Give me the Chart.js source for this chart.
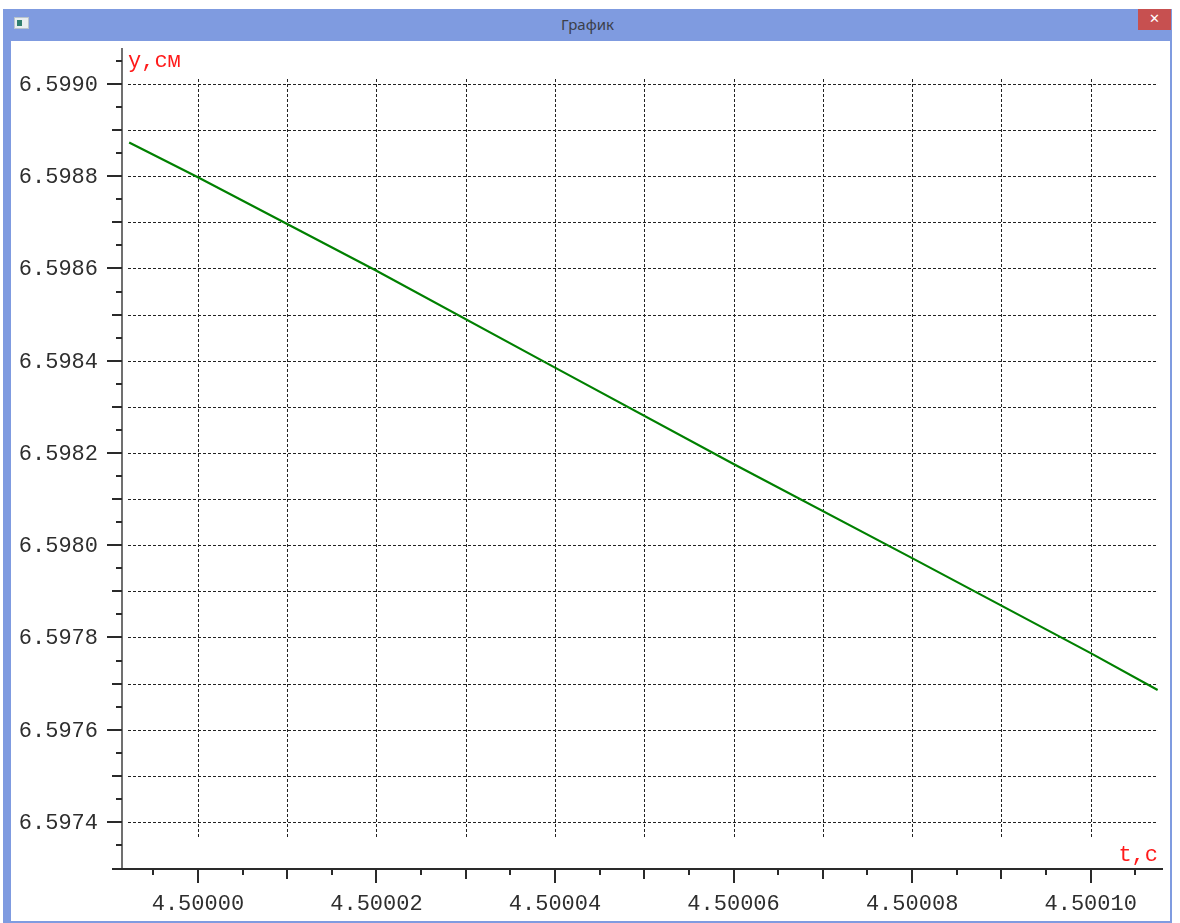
<!DOCTYPE html>
<html>
<head>
<meta charset="utf-8">
<script src="https://cdn.jsdelivr.net/npm/chart.js@4/dist/chart.umd.min.js"></script>
<style>
  html, body { margin: 0; padding: 0; background: #ffffff; width: 1180px; height: 923px; overflow: hidden; }
  .frame { position: absolute; left: 3px; top: 9px; width: 1169px; height: 914px; background: #7f9be0; }
  .title { position: absolute; left: 0; top: 0; width: 1169px; height: 32px; line-height: 30px; text-align: center;
           font-family: "Noto Sans", "Open Sans", sans-serif; font-size: 15px; color: #3b3f4a; }
  .close { position: absolute; left: 1135px; top: 0; width: 33px; height: 21px; background: #c75050;
           color: #fff; text-align: center; line-height: 20px; font-family: "DejaVu Sans", sans-serif; font-size: 13px; font-weight: bold; }
  .icon { position: absolute; left: 11px; top: 8px; width: 15px; height: 12px; background: #e8eef0; border: 1px solid #b8c4cc; box-sizing: border-box; }
  .icon::before { content: ""; position: absolute; left: 2px; top: 2px; width: 5px; height: 6px; background: #2f7f6f; }
  .client { position: absolute; left: 11px; top: 41px; width: 1159px; height: 880px; background: #ffffff; }
</style>
</head>
<body>
<div class="frame">
  <div class="icon"></div>
  <div class="title">График</div>
  <div class="close">✕</div>
</div>
<div class="client"><canvas id="c"></canvas></div>
<script>
// ---- data ----
const tValues = [4.4999923, 4.50000, 4.50002, 4.50004, 4.50006, 4.50008, 4.50010, 4.5001075];
const yValues = [6.598873, 6.598798, 6.598595, 6.598385, 6.598176, 6.597972, 6.597766, 6.597686];

const xTickLabels = ['4.50000', '4.50002', '4.50004', '4.50006', '4.50008', '4.50010'];
const yTickLabels = ['6.5974', '6.5976', '6.5978', '6.5980', '6.5982', '6.5984', '6.5986', '6.5988', '6.5990'];
const xAxisTitle = 't,c';
const yAxisTitle = 'y,см';

const xMin = 4.4999915, xMax = 4.5001081;
const yMin = 6.597298, yMax = 6.599078;
const xGridStep = 0.00001, xMinorStep = 0.000005;
const yGridStep = 0.0001, yMinorStep = 0.00005;

const points = tValues.map((t, i) => ({ x: t, y: yValues[i] }));

const MONO = '"Courier New", "Liberation Mono", monospace';

const axesPlugin = {
  id: 'qwtAxes',
  beforeDatasetsDraw(chart) {
    const { ctx, chartArea: a, scales } = chart;
    const xs = scales.x, ys = scales.y;
    ctx.save();
    // dashed grid
    ctx.strokeStyle = '#222';
    ctx.lineWidth = 1;
    ctx.setLineDash([3, 2]);
    const nY = Math.round((parseFloat(yTickLabels[yTickLabels.length - 1]) - parseFloat(yTickLabels[0])) / yGridStep);
    for (let i = 0; i <= nY; i++) {
      const v = parseFloat(yTickLabels[0]) + i * yGridStep;
      const py = Math.round(ys.getPixelForValue(v)) + 0.5;
      ctx.beginPath(); ctx.moveTo(a.left + 6, py); ctx.lineTo(a.right - 6, py); ctx.stroke();
    }
    const nX = Math.round((parseFloat(xTickLabels[xTickLabels.length - 1]) - parseFloat(xTickLabels[0])) / xGridStep);
    for (let i = 0; i <= nX; i++) {
      const v = parseFloat(xTickLabels[0]) + i * xGridStep;
      const px = Math.round(xs.getPixelForValue(v)) + 0.5;
      ctx.beginPath(); ctx.moveTo(px, a.top + 31); ctx.lineTo(px, a.bottom - 32); ctx.stroke();
    }
    ctx.setLineDash([]);
    ctx.restore();
  },
  afterDatasetsDraw(chart) {
    const { ctx, chartArea: a, scales } = chart;
    const xs = scales.x, ys = scales.y;
    ctx.save();
    // axis lines
    ctx.lineWidth = 2;
    ctx.strokeStyle = '#707070';
    ctx.beginPath(); ctx.moveTo(a.left, a.top); ctx.lineTo(a.left, a.bottom); ctx.stroke();
    ctx.strokeStyle = '#2a2a2a';
    ctx.beginPath(); ctx.moveTo(a.left - 10, a.bottom); ctx.lineTo(a.right, a.bottom); ctx.stroke();

    // y ticks
    ctx.strokeStyle = '#2a2a2a';
    ctx.lineWidth = 2;
    const y0 = parseFloat(yTickLabels[0]);
    for (let k = -20; k <= 60; k++) {
      const v = y0 + k * yMinorStep;
      if (v < yMin - 1e-9 || v > yMax + 1e-9) continue;
      const py = Math.round(ys.getPixelForValue(v));
      if (py > a.bottom - 2) continue;
      const len = (k % 4 === 0) ? 15 : (k % 2 === 0 ? 10 : 6);
      ctx.beginPath(); ctx.moveTo(a.left - len, py); ctx.lineTo(a.left, py); ctx.stroke();
    }
    // x ticks
    const x0 = parseFloat(xTickLabels[0]);
    for (let k = -10; k <= 40; k++) {
      const v = x0 + k * xMinorStep;
      if (v < xMin - 1e-12 || v > xMax + 1e-12) continue;
      const px = Math.round(xs.getPixelForValue(v));
      const kk = ((k % 4) + 4) % 4;
      const len = (kk === 0) ? 14 : (kk === 2 ? 10 : 6);
      ctx.beginPath(); ctx.moveTo(px, a.bottom); ctx.lineTo(px, a.bottom + len); ctx.stroke();
    }

    // tick labels
    ctx.fillStyle = '#2e2e2e';
    ctx.font = '22px ' + MONO;
    ctx.textAlign = 'right';
    ctx.textBaseline = 'middle';
    yTickLabels.forEach(lbl => {
      const py = ys.getPixelForValue(parseFloat(lbl));
      ctx.fillText(lbl, a.left - 24, py + 1);
    });
    ctx.textAlign = 'center';
    xTickLabels.forEach(lbl => {
      const px = xs.getPixelForValue(parseFloat(lbl));
      ctx.fillText(lbl, px, a.bottom + 35);
    });

    // axis titles
    ctx.fillStyle = '#ff1a1a';
    ctx.textAlign = 'left';
    ctx.fillText(yAxisTitle, a.left + 6, a.top + 13);
    ctx.textAlign = 'right';
    ctx.fillText(xAxisTitle, a.right - 5, a.bottom - 14);
    ctx.restore();
  }
};

new Chart(document.getElementById('c'), {
  type: 'line',
  data: {
    datasets: [{
      data: points,
      borderColor: '#008000',
      borderWidth: 2.2,
      pointRadius: 0,
      fill: false,
      tension: 0
    }]
  },
  options: {
    responsive: true,
    maintainAspectRatio: false,
    animation: false,
    layout: { padding: { left: 111, right: 7, top: 7, bottom: 52 } },
    plugins: { legend: { display: false }, tooltip: { enabled: false } },
    scales: {
      x: { type: 'linear', min: xMin, max: xMax, display: false },
      y: { type: 'linear', min: yMin, max: yMax, display: false }
    }
  },
  plugins: [axesPlugin]
});
</script>
</body>
</html>
